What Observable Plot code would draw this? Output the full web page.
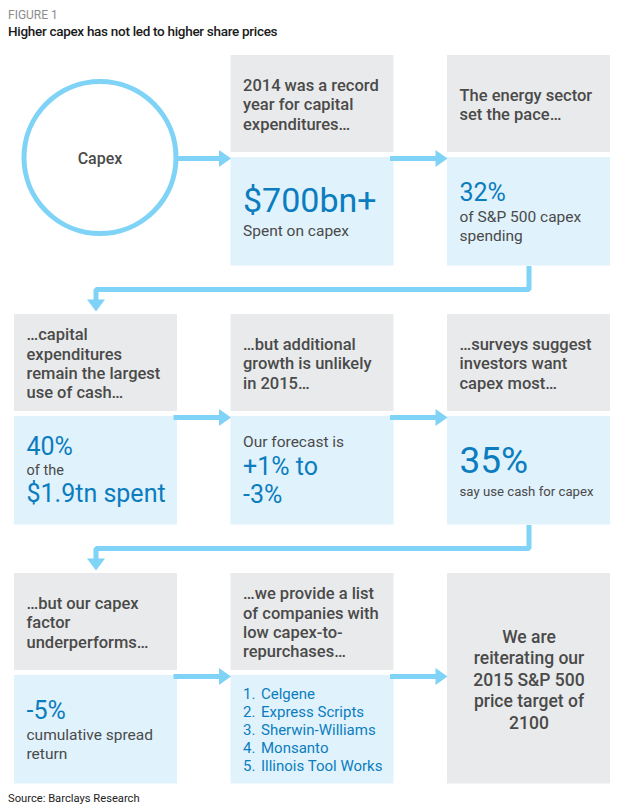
<!DOCTYPE html>
<html><head><meta charset="utf-8">
<script src="https://cdn.jsdelivr.net/npm/d3@7"></script>
<script src="https://cdn.jsdelivr.net/npm/@observablehq/plot@0.6"></script>
<style>
body{margin:0;background:#fff;font-family:Roboto,sans-serif;}
#fig{position:relative;width:618px;height:811px;overflow:hidden;background:#fff}
.t{position:absolute;left:8px;white-space:nowrap}
#kicker{top:9px;font-size:12px;line-height:13px;color:#8c8c8c}
#title{top:24px;font-size:13.5px;line-height:15px;font-weight:500;color:#1a1a1a;letter-spacing:-0.3px}
#source{top:792px;font-size:11.2px;line-height:13px;color:#222}
#chart{position:absolute;left:0;top:48px}
</style></head><body>
<div id="fig">
<div class="t" id="kicker"></div>
<div class="t" id="title"></div>
<div id="chart"></div>
<div class="t" id="source"></div>
</div>
<script>
// ---------- data ----------
const figureLabel = "FIGURE 1";
const titleText = "Higher capex has not led to higher share prices";
const sourceText = "Source: Barclays Research";
const startLabel = "Capex";
const headers = [
  "2014 was a record\nyear for capital\nexpenditures…",
  "The energy sector\nset the pace…",
  "…capital\nexpenditures\nremain the largest\nuse of cash…",
  "…but additional\ngrowth is unlikely\nin 2015…",
  "…surveys suggest\ninvestors want\ncapex most…",
  "…but our capex\nfactor\nunderperforms…",
  "…we provide a list\nof companies with\nlow capex-to-\nrepurchases…"
];
const details = [
  [["lead", "$700bn+"], ["text", "Spent on capex"]],
  [["big", "32%"], ["text", "of S&P 500 capex"], ["text", "spending"]],
  [["big", "40%"], ["note", "of the"], ["big", "$1.9tn spent"]],
  [["text", "Our forecast is"], ["big", "+1% to"], ["big", "-3%"]],
  [["hero", "35%"], ["caption", "say use cash for capex"]],
  [["big", "-5%"], ["text", "cumulative spread"], ["text", "return"]],
  null
];
const companies = ["Celgene", "Express Scripts", "Sherwin-Williams", "Monsanto", "Illinois Tool Works"];
const conclusion = "We are\nreiterating our\n2015 S&P 500\nprice target of\n2100";

// ---------- layout & styles ----------
const W = 618, TOP = 48, H = 745;
const COL0 = 14, COLSTEP = 216.5, COLW = 163, PAD = 12;
const ROW0 = 55, ROWSTEP = 259, GRAYH = 97, BLUEOFF = 102, ROWH = 210.5;
const GRAY = "#e9eaeb", LIGHT = "#e0f2fc", ARROW = "#7fd3f6", DARK = "#4a4a4a", BLUE = "#0b7dbf";
const FONT = "Roboto";
const kindStyle = {
  hero: {size: 37, fill: BLUE},
  lead: {size: 34, fill: BLUE},
  big: {size: 25, fill: BLUE},
  text: {size: 15.5, fill: DARK},
  note: {size: 14.5, fill: DARK},
  caption: {size: 13.2, fill: DARK}
};
const colLeft = c => COL0 + c * COLSTEP;
const colMid = c => colLeft(c) + COLW / 2;
const rowTop = r => ROW0 + r * ROWSTEP;
const cell = i => ({row: Math.floor(i / 3), col: i % 3});
const nSteps = headers.length + 2; // circle + headers + conclusion

// boxes
const grayBoxes = headers.map((t, k) => {
  const {row, col} = cell(k + 1);
  return {x1: colLeft(col), x2: colLeft(col) + COLW, y1: rowTop(row), y2: rowTop(row) + GRAYH};
});
const last = cell(nSteps - 1);
grayBoxes.push({x1: colLeft(last.col), x2: colLeft(last.col) + COLW, y1: rowTop(last.row), y2: rowTop(last.row) + ROWH});
const blueBoxes = headers.map((t, k) => {
  const {row, col} = cell(k + 1);
  return {x1: colLeft(col), x2: colLeft(col) + COLW, y1: rowTop(row) + BLUEOFF, y2: rowTop(row) + ROWH};
});

// arrows
const shafts = [], heads = [];
for (let i = 0; i < nSteps - 1; i++) {
  const {row, col} = cell(i);
  if (col < 2) {
    const y = rowTop(row) + BLUEOFF + 1, tip = colLeft(col + 1);
    shafts.push({id: i, x: colLeft(col) + COLW - 4, y}, {id: i, x: tip - 11, y});
    heads.push({id: i, x: tip, y}, {id: i, x: tip - 12, y: y - 8.5}, {id: i, x: tip - 12, y: y + 8.5});
  } else {
    const yMid = rowTop(row) + 234, tipY = rowTop(row + 1) - 3;
    shafts.push({id: i, x: colMid(2), y: rowTop(row) + ROWH},
                {id: i, x: colMid(2), y: yMid},
                {id: i, x: colMid(0), y: yMid},
                {id: i, x: colMid(0), y: tipY - 11});
    heads.push({id: i, x: colMid(0), y: tipY}, {id: i, x: colMid(0) - 9, y: tipY - 12}, {id: i, x: colMid(0) + 9, y: tipY - 12});
  }
}

// header texts
const headerData = headers.map((t, k) => {
  const {row, col} = cell(k + 1);
  return {x: colLeft(col) + PAD, y: rowTop(row) + GRAYH / 2, text: t};
});

// detail lines
const detailLines = [];
details.forEach((lines, k) => {
  if (!lines) return;
  const {row, col} = cell(k + 1);
  const ys = [0];
  for (let j = 1; j < lines.length; j++) {
    const a = kindStyle[lines[j - 1][0]].size, b = kindStyle[lines[j][0]].size;
    const bothBig = a > 20 && b > 20;
    ys.push(ys[j - 1] + (bothBig ? 1.12 * b : 1.2 * (a + b) / 2));
  }
  const s0 = kindStyle[lines[0][0]].size, sN = kindStyle[lines[lines.length - 1][0]].size;
  const mid = (ys[0] - s0 / 2 + ys[ys.length - 1] + sN / 2) / 2;
  const center = rowTop(row) + (BLUEOFF + ROWH) / 2;
  lines.forEach(([kind, text], j) => detailLines.push({kind, text, x: colLeft(col) + PAD, y: center - mid + ys[j]}));
});

// list
const listStep = details.findIndex(d => d === null) + 1;
const lc = cell(listStep);
const listCenter = rowTop(lc.row) + (BLUEOFF + ROWH) / 2;
const listData = companies.map((name, j) => ({
  num: `${j + 1}.`, name,
  x: colLeft(lc.col) + PAD,
  y: listCenter + (j - (companies.length - 1) / 2) * 18
}));

const textOpts = {x: "x", y: "y", textAnchor: "start", lineAnchor: "middle", fontFamily: FONT};

const chart = Plot.plot({
  width: W, height: H, margin: 0,
  x: {domain: [0, W], axis: null},
  y: {domain: [TOP, TOP + H], reverse: true, axis: null},
  style: {fontFamily: FONT, background: "transparent"},
  marks: [
    Plot.rect(grayBoxes, {x1: "x1", x2: "x2", y1: "y1", y2: "y2", fill: GRAY}),
    Plot.rect(blueBoxes, {x1: "x1", x2: "x2", y1: "y1", y2: "y2", fill: LIGHT}),
    Plot.line(shafts, {x: "x", y: "y", z: "id", stroke: ARROW, strokeWidth: 5, strokeLinejoin: "miter", strokeLinecap: "butt"}),
    Plot.line(heads, {x: "x", y: "y", z: "id", fill: ARROW, stroke: "none"}),
    Plot.dot([{x: colMid(0) + 4, y: rowTop(0) + BLUEOFF}], {x: "x", y: "y", r: 76, fill: "white", stroke: ARROW, strokeWidth: 5}),
    Plot.text([{x: colMid(0) + 4, y: rowTop(0) + BLUEOFF + 1, text: startLabel}], {x: "x", y: "y", text: "text", fontSize: 16, fontWeight: 500, fill: DARK, fontFamily: FONT}),
    Plot.text(headerData, {...textOpts, text: "text", fontSize: 16.5, fontWeight: 500, fill: DARK, lineHeight: 1.18}),
    ...Object.entries(kindStyle).map(([kind, st]) =>
      Plot.text(detailLines.filter(d => d.kind === kind), {...textOpts, text: "text", fontSize: st.size, fill: st.fill})),
    Plot.text(listData, {...textOpts, text: "num", fontSize: 15, fill: BLUE}),
    Plot.text(listData, {...textOpts, text: "name", dx: 18, fontSize: 15, fill: BLUE}),
    Plot.text([{x: colMid(last.col), y: rowTop(last.row) + ROWH / 2, text: conclusion}], {x: "x", y: "y", text: "text", fontSize: 17.5, fontWeight: 500, fill: DARK, lineHeight: 1.23, fontFamily: FONT})
  ]
});
document.getElementById("chart").appendChild(chart);
document.getElementById("kicker").textContent = figureLabel;
document.getElementById("title").textContent = titleText;
document.getElementById("source").textContent = sourceText;
</script>
</body></html>
